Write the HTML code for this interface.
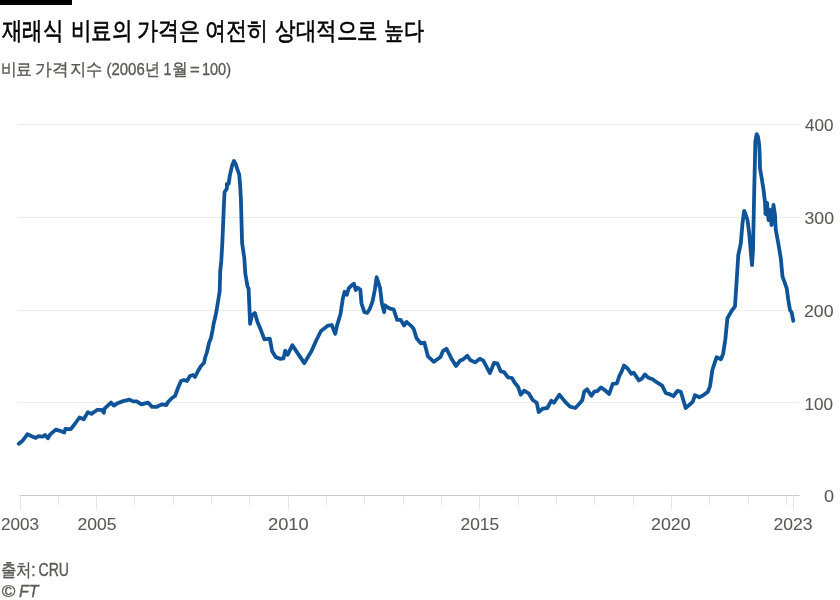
<!DOCTYPE html>
<html><head><meta charset="utf-8">
<style>
html,body{margin:0;padding:0;background:#fff;}
body{width:840px;height:600px;overflow:hidden;position:relative;font-family:"Liberation Sans",sans-serif;}
svg{position:absolute;left:0;top:0;will-change:transform;}
</style></head><body>
<svg width="840" height="600" viewBox="0 0 840 600" font-family="Liberation Sans, sans-serif">
<rect x="0" y="0" width="72" height="5" fill="#000"/>
<g stroke="#ebebeb" stroke-width="1">
<line x1="18" y1="124.5" x2="799" y2="124.5"/>
<line x1="18" y1="217.5" x2="799" y2="217.5"/>
<line x1="18" y1="310.5" x2="799" y2="310.5"/>
<line x1="18" y1="402.5" x2="799" y2="402.5"/>
</g>
<line x1="19.5" y1="495.5" x2="799.5" y2="495.5" stroke="#cdc8c3" stroke-width="1"/>
<g stroke="#e6e6e6" stroke-width="1">
<line x1="20.5" y1="495.5" x2="20.5" y2="510"/>
<line x1="58.5" y1="495.5" x2="58.5" y2="505"/>
<line x1="96.5" y1="495.5" x2="96.5" y2="510"/>
<line x1="134.5" y1="495.5" x2="134.5" y2="505"/>
<line x1="173.5" y1="495.5" x2="173.5" y2="505"/>
<line x1="211.5" y1="495.5" x2="211.5" y2="505"/>
<line x1="249.5" y1="495.5" x2="249.5" y2="505"/>
<line x1="288.5" y1="495.5" x2="288.5" y2="510"/>
<line x1="326.5" y1="495.5" x2="326.5" y2="505"/>
<line x1="364.5" y1="495.5" x2="364.5" y2="505"/>
<line x1="403.5" y1="495.5" x2="403.5" y2="505"/>
<line x1="441.5" y1="495.5" x2="441.5" y2="505"/>
<line x1="479.5" y1="495.5" x2="479.5" y2="510"/>
<line x1="518.5" y1="495.5" x2="518.5" y2="505"/>
<line x1="556.5" y1="495.5" x2="556.5" y2="505"/>
<line x1="594.5" y1="495.5" x2="594.5" y2="505"/>
<line x1="633.5" y1="495.5" x2="633.5" y2="505"/>
<line x1="671.5" y1="495.5" x2="671.5" y2="510"/>
<line x1="709.5" y1="495.5" x2="709.5" y2="505"/>
<line x1="748.5" y1="495.5" x2="748.5" y2="505"/>
<line x1="786.5" y1="495.5" x2="786.5" y2="505"/>
<line x1="793.5" y1="495.5" x2="793.5" y2="510"/>
</g>
<text x="1.50" y="38.8" font-size="25" fill="#000" stroke="#000" stroke-width="0.6" textLength="61.60" lengthAdjust="spacingAndGlyphs">재래식</text>
<text x="70.50" y="38.8" font-size="25" fill="#000" stroke="#000" stroke-width="0.6" textLength="61.70" lengthAdjust="spacingAndGlyphs">비료의</text>
<text x="136.50" y="38.8" font-size="25" fill="#000" stroke="#000" stroke-width="0.6" textLength="63.30" lengthAdjust="spacingAndGlyphs">가격은</text>
<text x="204.50" y="38.8" font-size="25" fill="#000" stroke="#000" stroke-width="0.6" textLength="63.22" lengthAdjust="spacingAndGlyphs">여전히</text>
<text x="275.00" y="38.8" font-size="25" fill="#000" stroke="#000" stroke-width="0.6" textLength="102.52" lengthAdjust="spacingAndGlyphs">상대적으로</text>
<text x="383.50" y="38.8" font-size="25" fill="#000" stroke="#000" stroke-width="0.6" textLength="40.03" lengthAdjust="spacingAndGlyphs">높다</text>
<text x="0.50" y="74.5" font-size="17" fill="#5c5752" stroke="#5c5752" stroke-width="0.35" textLength="31.62" lengthAdjust="spacingAndGlyphs">비료</text>
<text x="35.00" y="74.5" font-size="17" fill="#5c5752" stroke="#5c5752" stroke-width="0.35" textLength="33.37" lengthAdjust="spacingAndGlyphs">가격</text>
<text x="70.00" y="74.5" font-size="17" fill="#5c5752" stroke="#5c5752" stroke-width="0.35" textLength="32.62" lengthAdjust="spacingAndGlyphs">지수</text>
<text x="106.50" y="74.5" font-size="17" fill="#5c5752" stroke="#5c5752" stroke-width="0.35" textLength="53.11" lengthAdjust="spacingAndGlyphs">(2006년</text>
<text x="163.50" y="74.5" font-size="17" fill="#5c5752" stroke="#5c5752" stroke-width="0.35" textLength="7.85" lengthAdjust="spacingAndGlyphs">1</text>
<text x="171.50" y="74.5" font-size="17" fill="#5c5752" stroke="#5c5752" stroke-width="0.35" textLength="15.78" lengthAdjust="spacingAndGlyphs">월</text>
<text x="190.00" y="74.5" font-size="17" fill="#5c5752" stroke="#5c5752" stroke-width="0.35" textLength="9.78" lengthAdjust="spacingAndGlyphs">=</text>
<text x="202.00" y="74.5" font-size="17" fill="#5c5752" stroke="#5c5752" stroke-width="0.35" textLength="29.02" lengthAdjust="spacingAndGlyphs">100)</text>
<text x="805.00" y="131" font-size="17" fill="#5c5752" stroke="#5c5752" stroke-width="0.08" textLength="28.52" lengthAdjust="spacingAndGlyphs">400</text>
<text x="804.50" y="224" font-size="17" fill="#5c5752" stroke="#5c5752" stroke-width="0.08" textLength="29.53" lengthAdjust="spacingAndGlyphs">300</text>
<text x="804.00" y="316.5" font-size="17" fill="#5c5752" stroke="#5c5752" stroke-width="0.08" textLength="29.52" lengthAdjust="spacingAndGlyphs">200</text>
<text x="804.50" y="409.5" font-size="17" fill="#5c5752" stroke="#5c5752" stroke-width="0.08" textLength="28.58" lengthAdjust="spacingAndGlyphs">100</text>
<text x="824.00" y="501.5" font-size="17" fill="#5c5752" stroke="#5c5752" stroke-width="0.08" textLength="10.07" lengthAdjust="spacingAndGlyphs">0</text>
<text x="1.00" y="530" font-size="17" fill="#5c5752" stroke="#5c5752" stroke-width="0.08" textLength="38.04" lengthAdjust="spacingAndGlyphs">2003</text>
<text x="77.50" y="530" font-size="17" fill="#5c5752" stroke="#5c5752" stroke-width="0.08" textLength="39.04" lengthAdjust="spacingAndGlyphs">2005</text>
<text x="268.00" y="530" font-size="17" fill="#5c5752" stroke="#5c5752" stroke-width="0.08" textLength="40.55" lengthAdjust="spacingAndGlyphs">2010</text>
<text x="460.50" y="530" font-size="17" fill="#5c5752" stroke="#5c5752" stroke-width="0.08" textLength="38.54" lengthAdjust="spacingAndGlyphs">2015</text>
<text x="651.00" y="530" font-size="17" fill="#5c5752" stroke="#5c5752" stroke-width="0.08" textLength="39.52" lengthAdjust="spacingAndGlyphs">2020</text>
<text x="773.50" y="530" font-size="17" fill="#5c5752" stroke="#5c5752" stroke-width="0.08" textLength="39.01" lengthAdjust="spacingAndGlyphs">2023</text>
<text x="0.50" y="576" font-size="18" fill="#5c5752" stroke="#5c5752" stroke-width="0.35" textLength="35.12" lengthAdjust="spacingAndGlyphs">출처:</text>
<text x="38.50" y="576" font-size="18" fill="#5c5752" stroke="#5c5752" stroke-width="0.35" textLength="30.53" lengthAdjust="spacingAndGlyphs">CRU</text>
<text x="1.50" y="597" font-size="16" fill="#5c5752" stroke="#5c5752" stroke-width="0.35" font-style="italic" textLength="13.59" lengthAdjust="spacingAndGlyphs">©</text>
<text x="19.00" y="597" font-size="16" fill="#5c5752" stroke="#5c5752" stroke-width="0.35" font-style="italic" textLength="19.59" lengthAdjust="spacingAndGlyphs">FT</text>
<path d="M18.8,443.8 L22.5,440.8 L27.5,434.2 L31.7,436.2 L35.8,437.9 L38.3,436.2 L42.5,436.7 L45.0,435.0 L47.9,438.3 L50.0,434.6 L55.8,429.6 L60.0,430.8 L64.2,432.5 L65.4,428.8 L70.8,429.2 L74.8,424.0 L79.5,417.5 L83.7,419.3 L87.9,412.1 L91.4,413.9 L97.4,409.8 L101.5,409.8 L103.9,412.7 L104.5,408.6 L111.0,402.6 L114.0,405.6 L117.6,403.2 L122.4,401.4 L129.5,399.6 L133.1,401.4 L136.7,401.4 L141.4,404.4 L148.0,402.6 L152.1,406.8 L156.9,406.8 L161.7,404.4 L166.4,405.0 L168.0,402.0 L172.0,398.0 L175.0,396.0 L178.0,388.0 L181.0,381.0 L184.0,380.0 L187.0,381.0 L190.0,376.0 L193.0,375.0 L195.0,377.0 L198.0,371.0 L201.0,366.0 L204.0,363.0 L205.0,358.0 L207.0,352.0 L209.0,343.0 L211.0,338.0 L212.6,330.0 L213.7,323.5 L215.8,314.8 L218.0,301.8 L219.7,291.0 L220.2,271.5 L221.3,260.7 L222.3,243.3 L223.4,217.3 L224.0,202.5 L224.6,192.0 L226.9,188.5 L226.9,183.8 L228.7,183.8 L229.8,175.7 L232.2,165.2 L233.9,161.0 L235.7,164.0 L237.4,169.3 L239.2,174.5 L240.1,185.0 L240.9,199.0 L242.1,243.0 L244.3,258.0 L245.3,273.5 L247.5,286.5 L248.6,288.7 L250.1,323.8 L251.9,315.5 L254.9,313.1 L257.3,321.4 L260.8,329.8 L264.4,339.3 L269.8,338.7 L272.1,351.2 L275.7,357.1 L280.5,358.9 L283.5,358.3 L285.2,350.6 L287.6,354.8 L292.4,345.2 L297.1,352.4 L304.3,363.1 L311.4,351.2 L316.2,340.5 L321.0,331.0 L328.1,325.6 L331.7,325.0 L335.2,333.9 L337.0,325.6 L340.5,314.0 L342.8,298.8 L344.6,291.8 L346.9,294.7 L348.7,288.3 L351.6,285.4 L353.9,283.7 L355.7,290.0 L357.4,287.7 L360.3,289.5 L361.5,303.5 L364.4,312.2 L367.3,312.8 L369.6,309.3 L372.6,301.2 L374.9,289.5 L376.6,277.2 L378.4,282.5 L380.1,288.3 L381.9,303.5 L384.2,312.2 L384.8,305.2 L387.1,307.0 L390.1,308.7 L393.6,309.3 L397.1,319.8 L400.6,319.8 L404.1,325.5 L406.5,321.9 L411.9,326.7 L413.7,329.0 L416.7,338.6 L420.8,343.3 L424.4,342.7 L428.0,356.4 L433.9,361.8 L440.5,357.0 L442.9,351.1 L446.4,348.7 L451.2,358.2 L456.0,366.0 L460.1,360.6 L463.1,359.4 L467.3,355.8 L470.2,360.0 L475.0,362.4 L479.8,358.8 L483.3,360.6 L489.9,373.1 L494.0,363.0 L497.3,363.3 L500.7,371.3 L504.0,372.0 L508.0,377.3 L512.0,378.0 L514.7,382.7 L518.0,386.7 L520.7,394.7 L524.0,390.7 L528.7,393.3 L532.7,400.0 L536.7,402.7 L538.7,412.0 L542.7,408.7 L547.3,408.0 L551.3,400.7 L554.0,402.7 L559.3,394.7 L566.0,402.7 L570.0,406.7 L575.3,408.0 L580.0,403.0 L582.4,400.0 L584.2,391.7 L587.1,389.3 L591.3,395.8 L594.3,391.7 L597.3,391.1 L600.8,387.5 L603.8,389.3 L609.2,394.0 L612.7,383.9 L616.9,383.3 L619.3,376.2 L621.7,371.4 L624.0,365.5 L627.6,368.5 L631.2,373.8 L633.6,372.6 L638.9,380.4 L641.9,378.6 L644.9,374.4 L647.9,377.4 L652.6,379.2 L657.4,382.7 L662.1,385.7 L665.7,392.9 L670.5,394.6 L673.3,396.2 L677.6,390.8 L680.8,391.8 L684.1,402.7 L685.6,408.1 L689.5,404.8 L692.8,401.6 L695.0,395.1 L699.3,397.3 L703.6,395.1 L707.9,391.8 L710.0,386.4 L712.3,370.2 L716.6,357.2 L721.0,359.3 L723.1,353.9 L725.3,339.8 L727.4,318.2 L731.8,310.6 L735.0,306.3 L736.7,280.0 L738.3,255.0 L740.8,243.3 L742.5,223.3 L744.2,210.8 L745.8,215.0 L747.5,220.0 L749.2,233.3 L750.8,251.7 L752.0,265.0 L753.0,250.0 L754.2,191.7 L755.0,158.3 L755.3,141.7 L756.7,134.2 L758.0,136.7 L759.2,145.0 L759.7,155.0 L760.0,168.3 L761.7,178.3 L763.3,188.3 L765.0,202.0 L765.5,214.0 L767.0,203.0 L768.5,220.0 L770.0,210.0 L771.5,225.0 L773.5,205.0 L775.0,215.0 L775.8,230.0 L778.3,243.3 L780.8,258.3 L782.5,276.7 L785.0,283.3 L786.7,288.3 L788.3,300.0 L790.0,310.0 L791.7,312.5 L793.3,320.8" fill="none" stroke="#0f5499" stroke-width="3.8" stroke-linejoin="round" stroke-linecap="round"/>
</svg>
</body></html>
